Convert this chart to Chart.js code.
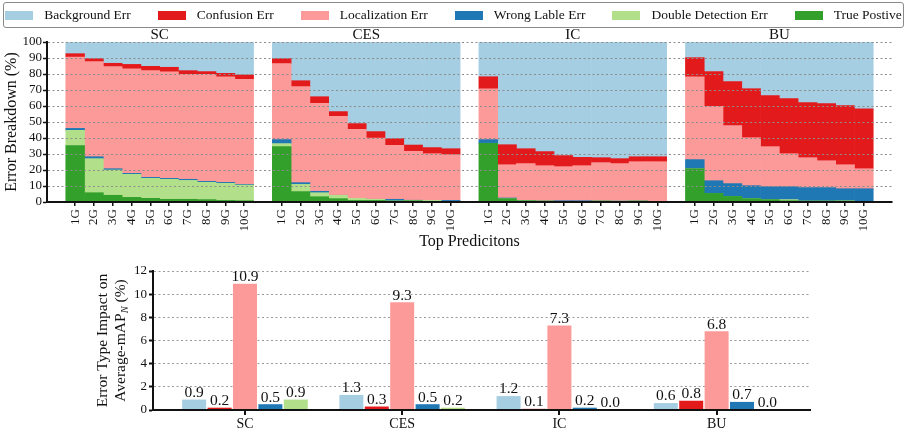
<!DOCTYPE html>
<html>
<head>
<meta charset="utf-8">
<script src="https://cdn.jsdelivr.net/npm/chart.js@4/dist/chart.umd.min.js"></script>
<style>
  body { margin: 0; background: #fff; }
  #todo { position: relative; width: 907px; height: 435px; }
  #leyenda {
    position: absolute; left: 3px; top: 2px; width: 899px; height: 24px;
    border: 1px solid #8a8a8a; border-radius: 3px; z-index: 2;
    display: flex; align-items: center; justify-content: center;
    font-family: 'Liberation Serif', 'DejaVu Serif', serif; font-size: 13.5px; color: #111;
  }
  .item { display: flex; align-items: center; margin-right: 27px; }
  .item:last-child { margin-right: 0; }
  .caja { width: 28px; height: 9px; margin-right: 11px; }
  #cajaArriba { position: absolute; left: 0; top: 0; width: 907px; height: 255px; }
  #cajaAbajo { position: absolute; left: 0; top: 255px; width: 907px; height: 180px; }
</style>
</head>
<body>
<div id="todo">
  <div id="leyenda"></div>
  <div id="cajaArriba"><canvas id="graficaArriba"></canvas></div>
  <div id="cajaAbajo"><canvas id="graficaAbajo"></canvas></div>
</div>
<script>
var fuente = "'Liberation Serif', 'DejaVu Serif', serif";

// nombres y colores de cada tipo de error (orden de la leyenda)
var nombres = ['Background Err', 'Confusion Err', 'Localization Err', 'Wrong Lable Err', 'Double Detection Err', 'True Postive'];
var colores = ['#a6cee3', '#e31a1c', '#fb9a99', '#1f78b4', '#b2df8a', '#33a02c'];

var paneles = ['SC', 'CES', 'IC', 'BU'];
var topG = ['1G', '2G', '3G', '4G', '5G', '6G', '7G', '8G', '9G', '10G'];

// SC
var scTP   = [35.2, 5.8, 4.2, 2.9, 2.3, 1.7, 1.7, 1.5, 1.0, 0.8];
var scDD   = [9.6, 21.3, 15.8, 14.4, 12.5, 12.5, 11.8, 10.8, 10.7, 9.8];
var scWL   = [1.2, 1.2, 0.8, 0.6, 0.6, 0.6, 0.7, 0.6, 0.6, 0.4];
var scLoc  = [44.6, 59.4, 63.8, 65.4, 66.7, 66.5, 65.6, 66.9, 66.0, 65.7];
var scConf = [2.1, 1.9, 2.1, 2.7, 2.7, 2.9, 2.3, 1.7, 2.1, 2.7];
var scBg   = [7.3, 10.4, 13.3, 14.0, 15.2, 15.8, 17.9, 18.5, 19.6, 20.6];

// CES
var cesTP   = [34.6, 6.5, 3.3, 2.1, 1.0, 1.0, 0.6, 0.8, 0.4, 0.3];
var cesDD   = [1.9, 4.5, 2.5, 2.1, 1.3, 0.7, 0.1, 0.1, 0.6, 0.1];
var cesWL   = [2.5, 1.1, 0.9, 0, 0, 0, 1.0, 0.2, 0, 0.6];
var cesLoc  = [47.5, 60.0, 55.0, 49.3, 43.1, 38.3, 33.7, 30.6, 29.2, 28.6];
var cesConf = [3.1, 3.7, 4.1, 3.0, 3.6, 4.0, 4.2, 3.9, 3.8, 3.7];
var cesBg   = [10.4, 24.2, 34.2, 43.5, 51.0, 56.0, 60.4, 64.4, 66.0, 66.7];

// IC
var icTP   = [36.7, 2.1, 0.8, 0.6, 0.4, 0.4, 0.6, 0.4, 0.6, 0.4];
var icDD   = [0, 0, 0, 0, 0, 0, 0, 0.2, 0, 0];
var icWL   = [2.3, 0.4, 0, 0, 0.4, 0.4, 0, 0, 0, 0];
var icLoc  = [31.8, 20.8, 23.2, 22.1, 21.3, 21.9, 24.0, 23.4, 24.6, 24.8];
var icConf = [7.5, 12.5, 9.3, 8.8, 6.9, 5.2, 3.1, 3.1, 3.1, 3.1];
var icBg   = [21.7, 64.2, 66.7, 68.5, 71.0, 72.1, 72.3, 72.9, 71.7, 71.7];

// BU
var buTP   = [20.8, 5.4, 3.5, 2.1, 1.5, 0.8, 0.6, 0.6, 0.6, 0.4];
var buDD   = [0, 0, 0, 0, 0, 0.7, 0, 0, 0.2, 0];
var buWL   = [5.7, 7.9, 8.0, 8.1, 8.1, 8.1, 8.4, 8.4, 7.5, 7.9];
var buLoc  = [51.8, 46.5, 36.2, 30.0, 25.0, 20.6, 18.7, 16.8, 15.0, 12.5];
var buConf = [11.9, 21.7, 27.5, 30.6, 31.9, 34.4, 34.4, 35.7, 36.9, 37.5];
var buBg   = [9.8, 18.5, 24.8, 29.2, 33.5, 35.4, 37.9, 38.5, 39.8, 41.7];

// impacto en mAP (grafica de abajo)
var impBg   = [0.9, 1.3, 1.2, 0.6];
var impConf = [0.2, 0.3, 0.1, 0.8];
var impLoc  = [10.9, 9.3, 7.3, 6.8];
var impWL   = [0.5, 0.5, 0.2, 0.7];
var impDD   = [0.9, 0.2, 0.0, 0.0];

var ticksArriba = [0, 10, 20, 30, 40, 50, 60, 70, 80, 90, 100];
var ticksAbajo = [0, 2, 4, 6, 8, 10, 12];

// leyenda html
var leyenda = document.getElementById('leyenda');
for (var i = 0; i < nombres.length; i++) {
    var it = document.createElement('div');
    it.className = 'item';
    it.innerHTML = '<span class="caja" style="background:' + colores[i] + '"></span><span>' + nombres[i] + '</span>';
    leyenda.appendChild(it);
}

// un hueco vacio antes, entre y despues de cada panel
function armarSerie(a, b, c, d) {
    var out = [null];
    [a, b, c, d].forEach(function (x) {
        out = out.concat(x);
        out.push(null);
    });
    return out;
}
var etiquetas = armarSerie(topG, topG, topG, topG).map(function (x) { return x == null ? '' : x; });

function conjunto(idx, datos) {
    return {
        label: nombres[idx],
        data: datos,
        backgroundColor: colores[idx],
        borderWidth: 0,
        barPercentage: 1,
        categoryPercentage: 1
    };
}

var tituloPaneles = {
    id: 'tituloPaneles',
    afterDraw: function (chart) {
        var ctx = chart.ctx;
        var x = chart.scales.x;
        ctx.save();
        ctx.fillStyle = '#111';
        ctx.font = '15px ' + fuente;
        ctx.textAlign = 'center';
        ctx.textBaseline = 'middle';
        paneles.forEach(function (p, k) {
            var ini = 1 + k * 11;
            var cx = (x.getPixelForValue(ini) + x.getPixelForValue(ini + 9)) / 2;
            ctx.fillText(p, cx, chart.chartArea.top - 7);
        });
        ctx.restore();
    }
};

var chart = new Chart(document.getElementById('graficaArriba'), {
    type: 'bar',
    data: {
        labels: etiquetas,
        datasets: [
            conjunto(5, armarSerie(scTP, cesTP, icTP, buTP)),
            conjunto(4, armarSerie(scDD, cesDD, icDD, buDD)),
            conjunto(3, armarSerie(scWL, cesWL, icWL, buWL)),
            conjunto(2, armarSerie(scLoc, cesLoc, icLoc, buLoc)),
            conjunto(1, armarSerie(scConf, cesConf, icConf, buConf)),
            conjunto(0, armarSerie(scBg, cesBg, icBg, buBg))
        ]
    },
    options: {
        responsive: true,
        maintainAspectRatio: false,
        animation: false,
        layout: { padding: { top: 42, right: 15, left: 0, bottom: 0 } },
        plugins: { legend: { display: false }, tooltip: { enabled: false } },
        scales: {
            x: {
                stacked: true,
                afterFit: function (s) { s.height = 53; },
                // sin marca en los huecos
                afterBuildTicks: function (s) {
                    s.ticks = s.ticks.filter(function (t) { return etiquetas[t.value] !== ''; });
                },
                grid: {
                    drawOnChartArea: false,
                    offset: false,
                    tickLength: 4,
                    lineWidth: 1.5,
                    color: '#111'
                },
                border: { color: '#111', width: 2, z: 2 },
                ticks: {
                    autoSkip: false,
                    maxRotation: 90,
                    minRotation: 90,
                    padding: 3,
                    color: '#111',
                    font: { family: fuente, size: 13 }
                },
                title: {
                    display: true,
                    text: 'Top Predicitons',
                    color: '#111',
                    font: { family: fuente, size: 16 },
                    padding: { top: 4, bottom: 4 }
                }
            },
            y: {
                stacked: true,
                min: 0,
                max: 100,
                afterFit: function (s) { s.width = 47; },
                afterBuildTicks: function (s) { s.ticks = ticksArriba.map(function (v) { return { value: v }; }); },
                grid: {
                    z: 1,
                    color: '#8c8c8c',
                    lineWidth: 1,
                    tickLength: 4,
                    tickColor: '#111',
                    tickWidth: 1.5
                },
                border: { color: '#111', width: 2, dash: [2, 2.5], z: 2 },
                ticks: { autoSkip: false, padding: 1, color: '#111', font: { family: fuente, size: 13 } },
                title: {
                    display: true,
                    text: 'Error Breakdown (%)',
                    color: '#111',
                    font: { family: fuente, size: 16 },
                    padding: { top: 2, bottom: 2 }
                }
            }
        }
    },
    plugins: [tituloPaneles]
});

// grafica de abajo
function barras(idx, valores) {
    return {
        label: nombres[idx],
        data: valores.map(function (v, k) { return { x: k, y: v }; }),
        backgroundColor: colores[idx],
        borderWidth: 0,
        barPercentage: 0.945,
        categoryPercentage: 0.808
    };
}

var valoresEncima = {
    id: 'valoresEncima',
    afterDatasetsDraw: function (chart) {
        var ctx = chart.ctx;
        ctx.save();
        ctx.fillStyle = '#111';
        ctx.font = '15.5px ' + fuente;
        ctx.textAlign = 'center';
        ctx.textBaseline = 'bottom';
        chart.data.datasets.forEach(function (ds, d) {
            chart.getDatasetMeta(d).data.forEach(function (bar, k) {
                ctx.fillText(ds.data[k].y.toFixed(1), bar.x, bar.y + 1);
            });
        });
        ctx.restore();
    }
};

var tituloY = {
    id: 'tituloY',
    afterDraw: function (chart) {
        var ctx = chart.ctx;
        var area = chart.chartArea;
        var cy = (area.top + area.bottom) / 2;
        ctx.save();
        ctx.fillStyle = '#111';
        ctx.textBaseline = 'middle';
        ctx.translate(area.left - 50, cy);
        ctx.rotate(-Math.PI / 2);
        ctx.font = '15.5px ' + fuente;
        ctx.textAlign = 'center';
        ctx.fillText('Error Type Impact on', 0, 0);
        ctx.restore();

        ctx.save();
        ctx.fillStyle = '#111';
        ctx.textBaseline = 'middle';
        ctx.translate(area.left - 32, cy);
        ctx.rotate(-Math.PI / 2);
        var f1 = '15.5px ' + fuente;
        var f2 = 'italic 10.5px ' + fuente;
        ctx.font = f1;
        var w1 = ctx.measureText('Average-mAP').width;
        var w3 = ctx.measureText(' (%)').width;
        ctx.font = f2;
        var w2 = ctx.measureText('N').width;
        var x0 = -(w1 + w2 + w3) / 2;
        ctx.textAlign = 'left';
        ctx.font = f1;
        ctx.fillText('Average-mAP', x0, 0);
        ctx.font = f2;
        ctx.fillText('N', x0 + w1, 4);
        ctx.font = f1;
        ctx.fillText(' (%)', x0 + w1 + w2, 0);
        ctx.restore();
    }
};

var chart2 = new Chart(document.getElementById('graficaAbajo'), {
    type: 'bar',
    data: {
        datasets: [
            barras(0, impBg),
            barras(1, impConf),
            barras(2, impLoc),
            barras(3, impWL),
            barras(4, impDD)
        ]
    },
    options: {
        responsive: true,
        maintainAspectRatio: false,
        animation: false,
        layout: { padding: { top: 16, right: 97, left: 0, bottom: 0 } },
        plugins: { legend: { display: false }, tooltip: { enabled: false } },
        scales: {
            x: {
                type: 'linear',
                offset: false,
                min: -0.585,
                max: 3.594,
                afterFit: function (s) { s.height = 25; },
                afterBuildTicks: function (s) { s.ticks = paneles.map(function (p, k) { return { value: k }; }); },
                grid: { drawOnChartArea: false, offset: false, tickLength: 5, lineWidth: 2, color: '#111' },
                border: { color: '#111', width: 2, z: 2 },
                ticks: {
                    padding: 1,
                    color: '#111',
                    font: { family: fuente, size: 14 },
                    callback: function (v) { return paneles[v]; }
                }
            },
            y: {
                min: 0,
                max: 12,
                afterFit: function (s) { s.width = 153; },
                afterBuildTicks: function (s) { s.ticks = ticksAbajo.map(function (v) { return { value: v }; }); },
                grid: {
                    color: '#9a9a9a',
                    lineWidth: 1,
                    tickLength: 4,
                    tickColor: '#111',
                    tickWidth: 2
                },
                border: { color: '#111', width: 2, dash: [2, 2.5], z: 2 },
                ticks: { autoSkip: false, padding: 2, color: '#111', font: { family: fuente, size: 13 } }
            }
        }
    },
    plugins: [valoresEncima, tituloY]
});
</script>
</body>
</html>
